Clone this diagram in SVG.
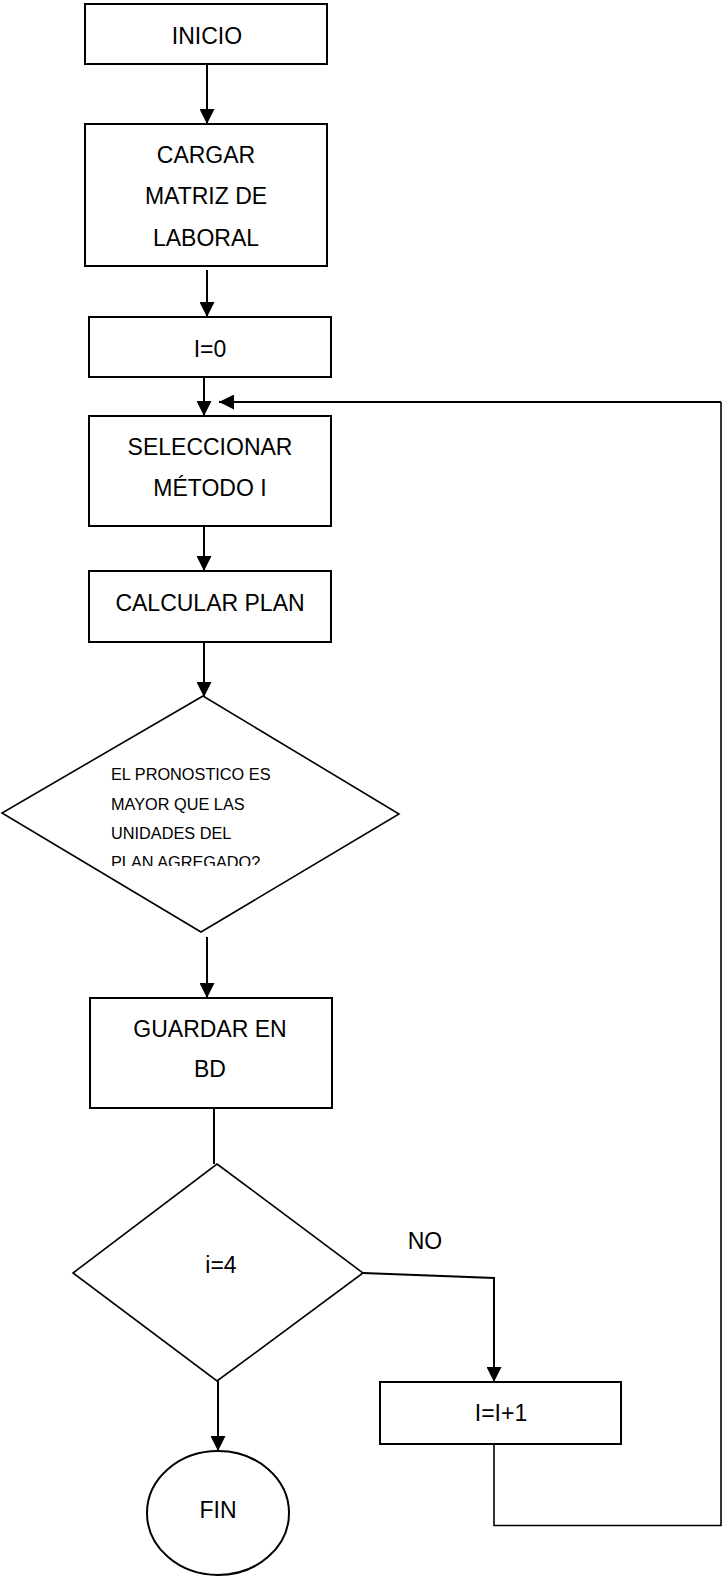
<svg xmlns="http://www.w3.org/2000/svg" width="722" height="1579" viewBox="0 0 722 1579">
  <defs>
    <style>
      .box { fill: #ffffff; stroke: #000000; stroke-width: 2; }
      .dia { fill: #ffffff; stroke: #000000; stroke-width: 1.6; }
      .lbl { font-family: "Liberation Sans", Arial, sans-serif; font-size: 23px; fill: #000000; text-anchor: middle; }
      .small { font-family: "Liberation Sans", Arial, sans-serif; font-size: 16.3px; fill: #000000; }
      .edge { fill: none; stroke: #000000; stroke-width: 2; }
      .thin { fill: none; stroke: #000000; stroke-width: 1.6; }
    </style>
    <marker id="arrow" viewBox="0 0 15 15" refX="15" refY="7.5" markerWidth="15" markerHeight="15" markerUnits="userSpaceOnUse" orient="auto">
      <path d="M0,0 L15,7.5 L0,15 Z" fill="#000000"/>
    </marker>
    <clipPath id="decisionClip">
      <rect x="100" y="750" width="200" height="116"/>
    </clipPath>
  </defs>

  <rect width="722" height="1579" fill="#ffffff"/>

  <!-- connectors -->
  <g id="connectors">
    <line class="edge" x1="207" y1="64" x2="207" y2="124" marker-end="url(#arrow)"/>
    <line class="edge" x1="207" y1="270" x2="207" y2="317" marker-end="url(#arrow)"/>
    <line class="edge" x1="204" y1="377" x2="204" y2="416" marker-end="url(#arrow)"/>
    <line class="edge" x1="204" y1="526" x2="204" y2="571" marker-end="url(#arrow)"/>
    <line class="edge" x1="204" y1="642" x2="204" y2="697" marker-end="url(#arrow)"/>
    <line class="edge" x1="207" y1="937" x2="207" y2="998" marker-end="url(#arrow)"/>
    <line class="edge" x1="214" y1="1108" x2="214" y2="1164"/>
    <line class="edge" x1="218" y1="1381" x2="218" y2="1451" marker-end="url(#arrow)"/>
    <polyline class="edge" points="363,1273 494,1278 494,1382" marker-end="url(#arrow)"/>
    <polyline class="thin" points="494,1444 494,1525.5 721,1525.5 721,402"/>
    <line class="edge" x1="721" y1="402" x2="219" y2="402" marker-end="url(#arrow)"/>
  </g>

  <g id="inicio">
    <rect class="box" x="85" y="4" width="242" height="60"/>
    <text class="lbl" x="207" y="44">INICIO</text>
  </g>

  <g id="cargar">
    <rect class="box" x="85" y="124" width="242" height="142"/>
    <text class="lbl" x="206" y="163">CARGAR</text>
    <text class="lbl" x="206" y="204">MATRIZ DE</text>
    <text class="lbl" x="206" y="246">LABORAL</text>
  </g>

  <g id="init-i">
    <rect class="box" x="89" y="317" width="242" height="60"/>
    <text class="lbl" x="210" y="357">I=0</text>
  </g>

  <g id="seleccionar">
    <rect class="box" x="89" y="416" width="242" height="110"/>
    <text class="lbl" x="210" y="455">SELECCIONAR</text>
    <text class="lbl" x="210" y="496">MÉTODO I</text>
  </g>

  <g id="calcular">
    <rect class="box" x="89" y="571" width="242" height="71"/>
    <text class="lbl" x="210" y="611">CALCULAR PLAN</text>
  </g>

  <g id="pronostico">
    <polygon class="dia" points="203,696 399,814 201,932 2,813"/>
    <g clip-path="url(#decisionClip)">
      <text class="small" x="111" y="780">EL PRONOSTICO ES</text>
      <text class="small" x="111" y="810">MAYOR QUE LAS</text>
      <text class="small" x="111" y="839">UNIDADES DEL</text>
      <text class="small" x="111" y="868">PLAN AGREGADO?</text>
    </g>
  </g>

  <g id="guardar">
    <rect class="box" x="90" y="998" width="242" height="110"/>
    <text class="lbl" x="210" y="1037">GUARDAR EN</text>
    <text class="lbl" x="210" y="1077">BD</text>
  </g>

  <g id="check-i">
    <polygon class="dia" points="217,1164 363,1273 217,1381 73,1273"/>
    <text class="lbl" x="221" y="1273">i=4</text>
  </g>

  <g id="label-no">
    <text class="lbl" x="425" y="1249">NO</text>
  </g>

  <g id="incremento">
    <rect class="box" x="380" y="1382" width="241" height="62"/>
    <text class="lbl" x="501" y="1421">I=I+1</text>
  </g>

  <g id="fin">
    <ellipse class="box" cx="218" cy="1513" rx="71" ry="62"/>
    <text class="lbl" x="218" y="1518">FIN</text>
  </g>
</svg>
